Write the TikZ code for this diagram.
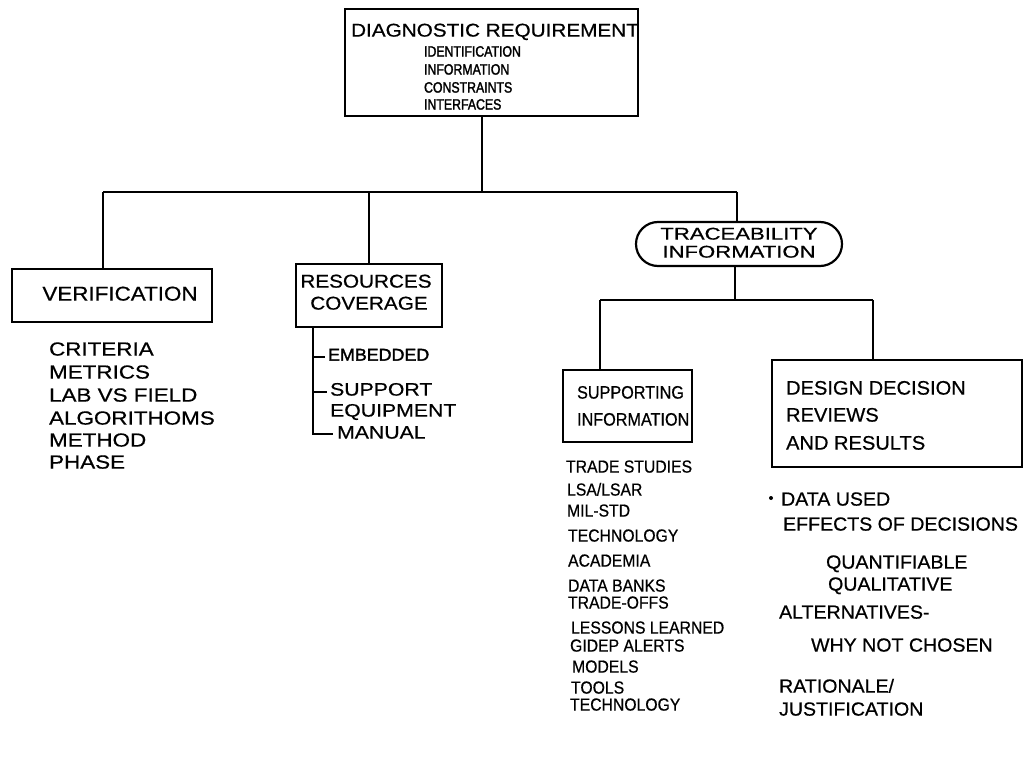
\documentclass[tikz,border=0pt]{standalone}
\usepackage{fontspec}
\setmainfont{Liberation Sans}
\newfontfamily\fsmall[FakeStretch=0.9,FakeBold=0.6]{Liberation Sans}
\newfontfamily\fdes[FakeStretch=1.03,FakeBold=0.6]{Liberation Sans}
\newfontfamily\fmid[FakeStretch=1.12,FakeBold=0.6]{Liberation Sans}
\newfontfamily\fwide[FakeStretch=1.18,FakeBold=0.6]{Liberation Sans}
\newfontfamily\fxwide[FakeStretch=1.3,FakeBold=0.6]{Liberation Sans}
\newfontfamily\fnarrow[FakeStretch=0.82,FakeBold=1.8]{Liberation Sans}
\newfontfamily\fheavy[FakeStretch=1.05,FakeBold=1.8]{Liberation Sans}
\newcommand\fsz[1]{\fontsize{#1}{#1}\selectfont}
\usetikzlibrary{shapes.misc}

\begin{document}
\begin{tikzpicture}[x=1pt,y=-1pt,
  line width=2.2pt,
  frame/.style={draw, line width=2.2pt, inner sep=0pt},
  lbl/.style={inner sep=0pt, anchor=west, text height=0.72em, text depth=0pt},
  ttl/.style={lbl, font=\fmid\fsz{18.5}},
  sub/.style={lbl, font=\fnarrow\fsz{15}},
  vlist/.style={lbl, font=\fwide\fsz{19}},
  rlist/.style={lbl, font=\fwide\fsz{18}},
  slist/.style={lbl, font=\fsmall\fsz{17.5}},
  dlist/.style={lbl, font=\fdes\fsz{19}}]
\useasboundingbox (0,0) rectangle (1027,775);

% ---- boxes ----
\node[frame, minimum width=293, minimum height=107] (diag) at (491.5,62.5) {};
\node[frame, minimum width=200, minimum height=53] (ver) at (112,295.5) {};
\node[frame, minimum width=146, minimum height=63] (res) at (369,295.5) {};
\node[draw, line width=2.2pt, rounded rectangle, inner sep=0pt,
      minimum width=206, minimum height=44] (trace) at (739,244) {};
\node[frame, minimum width=129, minimum height=72] (supbox) at (627.5,406) {};
\node[frame, minimum width=250, minimum height=107] (desbox) at (897,413.5) {};

% ---- box texts ----
\node[ttl] (diagT) at (350,33) {DIAGNOSTIC REQUIREMENT};
\node[sub] (d1) at (423,53) {IDENTIFICATION};
\node[sub] (d2) at (423,71) {INFORMATION};
\node[sub] (d3) at (423,89) {CONSTRAINTS};
\node[sub] (d4) at (423,106) {INTERFACES};

\node[lbl, anchor=center, font=\fmid\fsz{20}] (verT) at (120,297) {VERIFICATION};
\node[lbl, anchor=center, font=\fmid\fsz{18.5}] (resT1) at (366,284) {RESOURCES};
\node[lbl, anchor=center, font=\fmid\fsz{18.5}] (resT2) at (369,306) {COVERAGE};
\node[lbl, anchor=center, font=\fxwide\fsz{17}] (trT1) at (739,236) {TRACEABILITY};
\node[lbl, anchor=center, font=\fxwide\fsz{17}] (trT2) at (739,254) {INFORMATION};
\node[lbl, font=\fsmall\fsz{18}] (supT1) at (576,395) {SUPPORTING};
\node[lbl, font=\fsmall\fsz{18}] (supT2) at (576,422) {INFORMATION};
\node[lbl, font=\fdes\fsz{19.5}] (desT1) at (785,391) {DESIGN DECISION};
\node[lbl, font=\fdes\fsz{19.5}] (desT2) at (785,418) {REVIEWS};
\node[lbl, font=\fdes\fsz{19.5}] (desT3) at (785,446) {AND RESULTS};

% ---- connectors ----
\coordinate (busL) at (103,192);
\coordinate (busR) at (737,192);
\draw ([xshift=-9.5pt]diag.south) -- ([xshift=-9.5pt]diag.south |- busL);
\draw (busL) -- (busR);
\draw (busL) -- (ver.north -| busL);
\draw (res.north |- busL) -- (res.north);
\draw (busR) -- (trace.north -| busR);

\coordinate (b2L) at (600,300);
\coordinate (b2R) at (873,300);
\draw ([xshift=-4pt]trace.south) -- ([xshift=-4pt]trace.south |- b2L);
\draw (b2L) -- (b2R);
\draw (b2L) -- (supbox.north -| b2L);
\draw (b2R) -- (desbox.north -| b2R);

% ---- verification list ----
\foreach \y/\t [count=\i] in {352/{CRITERIA}, 375/{METRICS}, 398/{LAB VS FIELD},
    421/{ALGORITHOMS}, 443/{METHOD}, 465/{PHASE}}
  \node[vlist] (v\i) at (48,\y) {\t};

% ---- resources list with bracket ----
\node[lbl, font=\fheavy\fsz{17}] (emb) at (327,357) {EMBEDDED};
\node[rlist] (supp) at (329,392) {SUPPORT};
\node[rlist] (equip) at (329,413) {EQUIPMENT};
\node[rlist] (man) at (336,435) {MANUAL};
\coordinate (rb) at (313,434);
\draw (res.south -| rb) -- (rb) -- ([xshift=-3pt]man.west |- rb);
\draw (emb.west -| rb) -- ([xshift=-2pt]emb.west);
\draw (supp.west -| rb) -- ([xshift=-2pt]supp.west);

% ---- supporting information list ----
\foreach \y/\x/\t [count=\i] in {469/565/{TRADE STUDIES}, 492/566/{LSA/LSAR},
    513/566/{MIL-STD}, 538/567/{TECHNOLOGY}, 563/567/{ACADEMIA},
    588/567/{DATA BANKS}, 605/567/{TRADE-OFFS}, 630/570/{LESSONS LEARNED},
    648/569/{GIDEP ALERTS}, 669/571/{MODELS}, 690/570/{TOOLS},
    707/569/{TECHNOLOGY}}
  \node[slist] (s\i) at (\x,\y) {\t};

% ---- design decision list ----
\node[circle, fill, inner sep=0pt, minimum size=4pt] (bul) at (771,498) {};
\foreach \y/\x/\t [count=\i] in {502/780/{DATA USED}, 527/782/{EFFECTS OF DECISIONS},
    565/825/{QUANTIFIABLE}, 587/827/{QUALITATIVE}, 615/778/{ALTERNATIVES-},
    648/810/{WHY NOT CHOSEN}, 689/778/{RATIONALE/}, 712/778/{JUSTIFICATION}}
  \node[dlist] (e\i) at (\x,\y) {\t};
\end{tikzpicture}
\end{document}
